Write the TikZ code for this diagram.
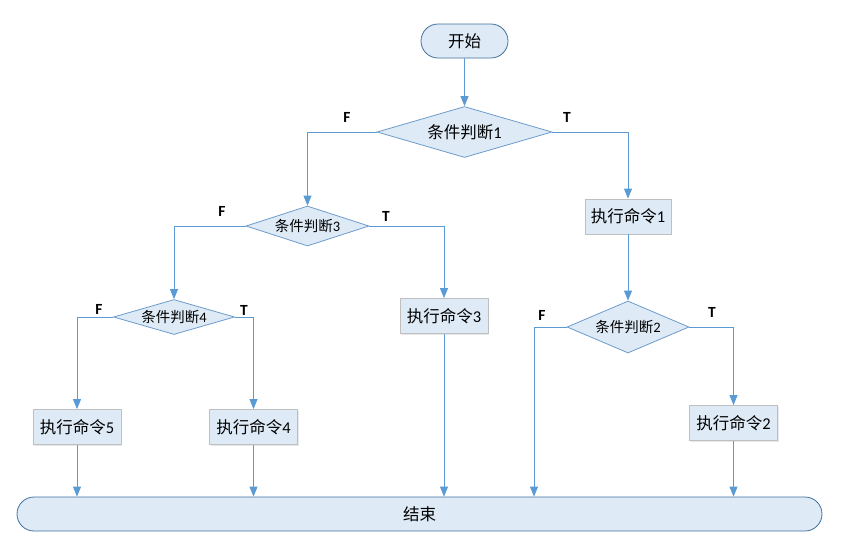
\documentclass[tikz,border=0pt]{standalone}
\usepackage{fontspec}
\setmainfont{Carlito}
\newfontfamily\cjk{Noto Sans CJK SC}
\usetikzlibrary{shapes.geometric,shapes.misc,arrows.meta,shadows}
\definecolor{ln}{HTML}{5B9BD5}
\definecolor{fl}{HTML}{DEEBF7}
\definecolor{tb}{HTML}{41719C}
\definecolor{db}{HTML}{6D9BCB}
\definecolor{bb}{HTML}{BFBFBF}
\tikzset{
  term/.style={rounded rectangle, draw=tb, fill=fl, line width=0.8pt, inner sep=0pt, font=\fontsize{16.5}{18}\selectfont},
  dec/.style={diamond, draw=db, fill=fl, line width=0.8pt, inner sep=0pt, aspect=3.5},
  act/.style={rectangle, draw=bb, fill=fl, line width=0.8pt, inner sep=0pt, minimum width=88pt, minimum height=35pt, font=\fontsize{16.5}{18}\selectfont, drop shadow={shadow xshift=1.2pt, shadow yshift=-1.2pt, fill=black!18}},
  lab/.style={font=\fontsize{15.5}{17}\selectfont\bfseries},
  flow/.style={draw=ln, line width=0.8pt, -{Triangle[length=10pt,width=8pt]}},
}
\begin{document}
\begin{tikzpicture}[x=1pt,y=-1pt]
\useasboundingbox (0,0) rectangle (853,555);
\node[term, minimum width=87pt, minimum height=34pt] (start) at (464.5,41) {\cjk 开始};
\node[dec, minimum width=175pt, minimum height=51pt, font=\fontsize{16.5}{18}\selectfont] (d1) at (464.5,132) {{\cjk 条件判断}1};
\node[dec, minimum width=123pt, minimum height=40pt, font=\fontsize{14.5}{16}\selectfont] (d3) at (307.5,226) {{\cjk 条件判断}3};
\node[dec, minimum width=122pt, minimum height=52pt, font=\fontsize{14.5}{16}\selectfont] (d2) at (628,327) {{\cjk 条件判断}2};
\node[dec, minimum width=121pt, minimum height=35pt, font=\fontsize{14.5}{16}\selectfont] (d4) at (174,317) {{\cjk 条件判断}4};
\node[act, minimum width=86pt] (b1) at (628,216.5) {{\cjk 执行命令}1};
\node[act] (b2) at (733.5,423) {{\cjk 执行命令}2};
\node[act] (b3) at (444,316) {{\cjk 执行命令}3};
\node[act] (b4) at (253.5,427) {{\cjk 执行命令}4};
\node[act] (b5) at (77,427) {{\cjk 执行命令}5};
\node[term, minimum width=805pt, minimum height=34pt] (end) at (419.5,514) {\cjk 结束};
\coordinate (f2) at (534,0);
\node[lab] (F1) at (347,117) {F};
\node[lab] (T1) at (567,117) {T};
\node[lab] (F3) at (222,211) {F};
\node[lab] (T3) at (386,216) {T};
\node[lab] (F4) at (99,309) {F};
\node[lab] (T4) at (244,310) {T};
\node[lab] (F2) at (542,315) {F};
\node[lab] (T2) at (712,312) {T};
\draw[flow] (start) -- (d1);
\draw[flow] (d1.west) -| (d3.north);
\draw[flow] (d1.east) -| (b1.north);
\draw[flow] (b1) -- (d2);
\draw[flow] (d2.west) -| (f2 |- end.north);
\draw[flow] (d2.east) -| (b2.north);
\draw[flow] (b2) -- (b2.south |- end.north);
\draw[flow] (d3.west) -| (d4.north);
\draw[flow] (d3.east) -| (b3.north);
\draw[flow] (b3) -- (b3.south |- end.north);
\draw[flow] (d4.west) -| (b5.north);
\draw[flow] (d4.east) -| (b4.north);
\draw[flow] (b5) -- (b5.south |- end.north);
\draw[flow] (b4) -- (b4.south |- end.north);
\end{tikzpicture}
\end{document}
